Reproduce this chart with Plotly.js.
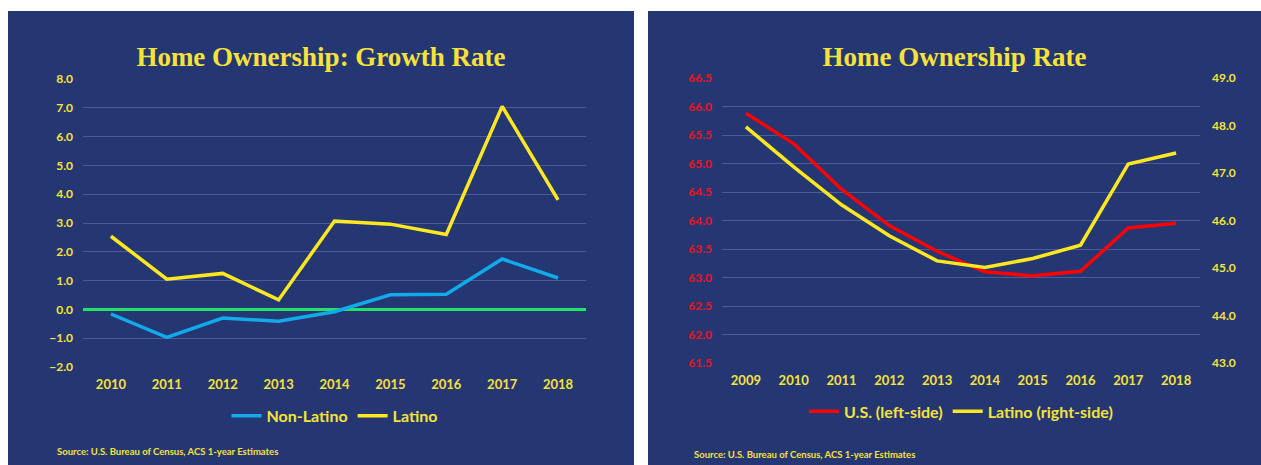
<!DOCTYPE html>
<html>
<head>
<meta charset="utf-8">
<script src="https://cdn.plot.ly/plotly-3.0.1.min.js"></script>
<style>
  html, body { margin: 0; padding: 0; background: #ffffff; width: 1261px; height: 465px; overflow: hidden; }
  #left { position: absolute; left: 8px; top: 11px; width: 626px; height: 454px; box-shadow: inset 0 0 0 1px #3a4c88; }
  #right { position: absolute; left: 648px; top: 11px; width: 613px; height: 454px; box-shadow: inset 0 0 0 1px #3a4c88; }
</style>
</head>
<body>
<div id="left"></div>
<div id="right"></div>
<script>
// ---- Data: Growth rate chart ----
const yearsGrowth = ['2010', '2011', '2012', '2013', '2014', '2015', '2016', '2017', '2018'];
const nonLatinoGrowth = [-0.16, -0.97, -0.30, -0.41, -0.08, 0.51, 0.53, 1.75, 1.09];
const latinoGrowth = [2.54, 1.05, 1.25, 0.33, 3.07, 2.96, 2.60, 7.05, 3.80];
const growthTicks = [-2, -1, 0, 1, 2, 3, 4, 5, 6, 7, 8];

// ---- Data: Ownership rate chart ----
const yearsRate = ['2009', '2010', '2011', '2012', '2013', '2014', '2015', '2016', '2017', '2018'];
const usRate = [65.88, 65.35, 64.55, 63.91, 63.46, 63.10, 63.03, 63.11, 63.87, 63.95];
const latinoRate = [47.97, 47.13, 46.33, 45.68, 45.15, 45.01, 45.20, 45.48, 47.19, 47.42];

const BG = '#243772';
const GRID = '#4a5c93';
const YEL = '#f7e23b';
const LINE_YEL = '#ffe820';
const RED = '#ff0000';
const BLUE = '#12aaea';
const GREEN = '#22e36a';
const SANS = 'Lato, "Open Sans", sans-serif';
const SERIF = '"Liberation Serif", "DejaVu Serif", serif';

const config = { staticPlot: true, displayModeBar: false };

// ---- Left chart ----
Plotly.newPlot('left', [
  { x: yearsGrowth, y: nonLatinoGrowth, type: 'scatter', mode: 'lines', name: 'Non-Latino',
    line: { color: BLUE, width: 3.5 } },
  { x: yearsGrowth, y: latinoGrowth, type: 'scatter', mode: 'lines', name: 'Latino',
    line: { color: LINE_YEL, width: 3.5 } }
], {
  width: 626, height: 454,
  paper_bgcolor: BG, plot_bgcolor: BG,
  margin: { l: 75, r: 48, t: 68, b: 98 },
  title: { text: '<b>Home Ownership: Growth Rate</b>', font: { family: SERIF, size: 27, color: YEL },
           x: 0.5, xanchor: 'center', y: 0.9, yanchor: 'middle', yref: 'container' },
  xaxis: { type: 'category', range: [-0.5, 8.5], showgrid: false, zeroline: false, showline: false,
           ticks: '', ticklabelstandoff: 8,
           tickfont: { family: SANS, size: 13, color: YEL, weight: 'bold' } },
  yaxis: { range: [-2, 8], tickvals: growthTicks, tickformat: '.1f', showgrid: true, gridcolor: GRID, gridwidth: 1,
           zeroline: true, zerolinecolor: GREEN, zerolinewidth: 2.5, showline: false, ticks: '',
           ticklabelstandoff: 9,
           tickfont: { family: SANS, size: 12, color: YEL, weight: 'bold' } },
  showlegend: true,
  legend: { orientation: 'h', x: 0.5, xanchor: 'center', y: -0.17, yanchor: 'middle',
            bgcolor: 'rgba(0,0,0,0)', itemwidth: 30, traceorder: 'normal',
            font: { family: SANS, size: 16, color: YEL, weight: 'bold' } },
  annotations: [{ text: '<b>Source: U.S. Bureau of Census, ACS 1-year Estimates</b>', xref: 'paper', yref: 'paper',
                  x: -0.056, y: -0.295, xanchor: 'left', yanchor: 'middle', showarrow: false,
                  font: { family: SANS, size: 9.5, color: YEL } }]
}, config);

// ---- Right chart ----
Plotly.newPlot('right', [
  { x: yearsRate, y: usRate, type: 'scatter', mode: 'lines', name: 'U.S. (left-side)',
    line: { color: RED, width: 3.5 }, yaxis: 'y' },
  { x: yearsRate, y: latinoRate, type: 'scatter', mode: 'lines', name: 'Latino (right-side)',
    line: { color: LINE_YEL, width: 3.5 }, yaxis: 'y2' }
], {
  width: 613, height: 454,
  paper_bgcolor: BG, plot_bgcolor: BG,
  margin: { l: 74, r: 61, t: 67, b: 102 },
  title: { text: '<b>Home Ownership Rate</b>', font: { family: SERIF, size: 27, color: YEL },
           x: 0.5, xanchor: 'center', y: 0.9, yanchor: 'middle', yref: 'container' },
  xaxis: { type: 'category', range: [-0.5, 9.5], showgrid: false, zeroline: false, showline: false,
           ticks: '', ticklabelstandoff: 8,
           tickfont: { family: SANS, size: 13, color: YEL, weight: 'bold' } },
  yaxis: { range: [61.5, 66.5], dtick: 0.5, tick0: 61.5, tickformat: '.1f', showgrid: true, gridcolor: GRID,
           gridwidth: 1, zeroline: false, showline: false, ticks: '', ticklabelstandoff: 9,
           tickfont: { family: SANS, size: 12, color: '#e8141e', weight: 'bold' } },
  yaxis2: { range: [43, 49], dtick: 1, tickformat: '.1f', overlaying: 'y', side: 'right', showgrid: false,
            zeroline: false, showline: false, ticks: '', ticklabelstandoff: 11,
            tickfont: { family: SANS, size: 12, color: YEL, weight: 'bold' } },
  showlegend: true,
  legend: { orientation: 'h', x: 0.5, xanchor: 'center', y: -0.17, yanchor: 'middle',
            bgcolor: 'rgba(0,0,0,0)', itemwidth: 30, traceorder: 'normal',
            font: { family: SANS, size: 16, color: YEL, weight: 'bold' } },
  annotations: [{ text: '<b>Source: U.S. Bureau of Census, ACS 1-year Estimates</b>', xref: 'paper', yref: 'paper',
                  x: -0.063, y: -0.32, xanchor: 'left', yanchor: 'middle', showarrow: false,
                  font: { family: SANS, size: 9.5, color: YEL } }]
}, config);
</script>
</body>
</html>
